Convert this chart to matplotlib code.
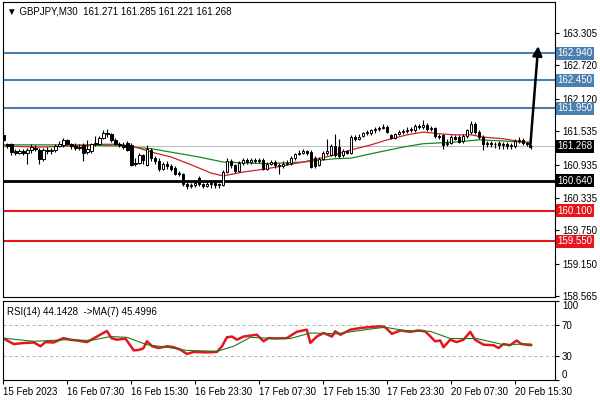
import numpy as np
import matplotlib
matplotlib.use("Agg")
from matplotlib import pyplot as plt

plt.rcParams['font.family'] = ['Liberation Sans', 'DejaVu Sans']

# GBPJPY M30 candles (bar 0 = 15 Feb 23:30)
opens = [161.46, 161.30, 161.30, 161.18, 161.15, 161.17, 161.15, 161.19, 161.24, 161.20,
         161.03, 161.20, 161.17, 161.19, 161.27, 161.28, 161.38, 161.30, 161.27, 161.24,
         161.28, 161.16, 161.18, 161.30, 161.31, 161.42, 161.50, 161.48, 161.38, 161.31,
         161.29, 161.33, 161.28, 160.95, 160.97, 161.10, 160.93, 161.20, 161.05, 161.00,
         160.86, 160.95, 160.90, 160.87, 160.78, 160.76, 160.58, 160.55, 160.57, 160.69,
         160.58, 160.55, 160.58, 160.60, 160.56, 160.57, 160.80, 161.00, 160.92, 160.82,
         160.96, 161.02, 160.98, 161.01, 161.00, 161.02, 160.86, 160.95, 160.98, 160.93,
         160.90, 160.95, 160.96, 161.05, 161.12, 161.15, 161.17, 161.16, 161.05, 160.92,
         161.04, 161.14, 161.10, 161.27, 161.25, 161.10, 161.17, 161.15, 161.43, 161.40,
         161.45, 161.50, 161.50, 161.55, 161.57, 161.60, 161.61, 161.46, 161.42, 161.48,
         161.52, 161.54, 161.56, 161.55, 161.63, 161.61, 161.65, 161.57, 161.59, 161.45,
         161.46, 161.30, 161.33, 161.44, 161.44, 161.36, 161.45, 161.52, 161.67, 161.52,
         161.43, 161.30, 161.33, 161.30, 161.32, 161.28, 161.31, 161.27, 161.27, 161.36,
         161.38, 161.32, 161.271]
highs = [161.50, 161.33, 161.32, 161.22, 161.21, 161.22, 161.23, 161.30, 161.28, 161.23,
         161.24, 161.25, 161.23, 161.30, 161.36, 161.42, 161.40, 161.33, 161.32, 161.30,
         161.32, 161.38, 161.33, 161.45, 161.45, 161.55, 161.57, 161.51, 161.42, 161.35,
         161.34, 161.36, 161.32, 161.05, 161.15, 161.13, 161.29, 161.23, 161.08, 161.05,
         160.98, 160.99, 160.95, 160.90, 160.82, 160.78, 160.62, 160.61, 160.64, 160.72,
         160.61, 160.62, 160.66, 160.63, 160.61, 160.84, 161.05, 161.03, 160.95, 161.00,
         161.06, 161.06, 161.05, 161.05, 161.06, 161.05, 160.98, 161.02, 161.01, 160.96,
         160.99, 161.01, 161.08, 161.15, 161.20, 161.22, 161.20, 161.19, 161.08, 161.07,
         161.17, 161.39, 161.30, 161.48, 161.40, 161.22, 161.20, 161.46, 161.47, 161.48,
         161.53, 161.56, 161.58, 161.61, 161.63, 161.66, 161.64, 161.49, 161.51, 161.55,
         161.58, 161.62, 161.62, 161.66, 161.67, 161.74, 161.69, 161.63, 161.62, 161.48,
         161.49, 161.40, 161.47, 161.47, 161.47, 161.49, 161.58, 161.72, 161.70, 161.55,
         161.46, 161.36, 161.36, 161.35, 161.36, 161.35, 161.35, 161.33, 161.39, 161.44,
         161.42, 161.35, 161.285]
lows = [161.35, 161.24, 161.10, 161.10, 161.12, 161.10, 160.95, 161.15, 161.17, 160.95,
        161.00, 161.12, 161.13, 161.16, 161.25, 161.26, 161.28, 161.22, 161.20, 161.20,
        161.00, 161.12, 161.15, 161.27, 161.28, 161.40, 161.44, 161.35, 161.28, 161.25,
        161.22, 161.18, 160.90, 160.90, 160.94, 160.95, 160.90, 161.00, 160.95, 160.82,
        160.83, 160.86, 160.82, 160.74, 160.72, 160.55, 160.50, 160.52, 160.53, 160.55,
        160.51, 160.53, 160.52, 160.52, 160.51, 160.54, 160.78, 160.88, 160.79, 160.80,
        160.93, 160.95, 160.95, 160.96, 160.96, 160.83, 160.83, 160.92, 160.88, 160.76,
        160.87, 160.92, 160.93, 161.02, 161.10, 161.12, 161.11, 160.87, 160.87, 160.90,
        161.01, 161.11, 161.08, 161.07, 161.05, 161.07, 161.12, 161.12, 161.36, 161.37,
        161.43, 161.47, 161.47, 161.51, 161.54, 161.57, 161.50, 161.39, 161.40, 161.46,
        161.49, 161.51, 161.53, 161.52, 161.58, 161.58, 161.54, 161.54, 161.42, 161.40,
        161.22, 161.27, 161.30, 161.37, 161.32, 161.33, 161.42, 161.49, 161.48, 161.40,
        161.19, 161.25, 161.26, 161.23, 161.22, 161.22, 161.22, 161.21, 161.24, 161.33,
        161.29, 161.27, 161.221]
closes = [161.37, 161.27, 161.16, 161.14, 161.17, 161.15, 161.19, 161.25, 161.21, 161.03,
          161.20, 161.17, 161.19, 161.27, 161.30, 161.38, 161.30, 161.27, 161.24, 161.26,
          161.14, 161.21, 161.30, 161.33, 161.42, 161.50, 161.48, 161.38, 161.31, 161.29,
          161.26, 161.20, 160.93, 160.97, 161.10, 161.02, 161.21, 161.05, 161.00, 160.85,
          160.95, 160.90, 160.86, 160.77, 160.76, 160.58, 160.55, 160.57, 160.60, 160.58,
          160.55, 160.58, 160.60, 160.56, 160.58, 160.80, 161.00, 160.92, 160.82, 160.97,
          161.02, 160.98, 161.01, 161.00, 161.02, 160.86, 160.95, 160.98, 160.93, 160.90,
          160.95, 160.97, 161.05, 161.12, 161.15, 161.17, 161.15, 160.89, 160.90, 161.04,
          161.14, 161.17, 161.27, 161.10, 161.08, 161.17, 161.15, 161.43, 161.40, 161.44,
          161.50, 161.52, 161.55, 161.57, 161.60, 161.61, 161.53, 161.42, 161.48, 161.52,
          161.54, 161.56, 161.58, 161.63, 161.61, 161.65, 161.57, 161.59, 161.45, 161.43,
          161.28, 161.33, 161.44, 161.40, 161.35, 161.45, 161.55, 161.67, 161.52, 161.43,
          161.30, 161.33, 161.30, 161.31, 161.28, 161.31, 161.27, 161.29, 161.36, 161.38,
          161.32, 161.30, 161.268]

# moving averages on price (read at a few bars)
ma_fast_bars = [0, 9, 17, 24, 29, 33, 37, 42, 47, 52, 55, 60, 66, 75, 83, 87, 92, 96, 101,
                105, 109, 113, 117, 120, 125, 130, 132]
ma_fast = [161.27, 161.25, 161.27, 161.30, 161.30, 161.25, 161.16, 161.07, 160.93, 160.78,
           160.73, 160.80, 160.86, 160.98, 161.11, 161.20, 161.29, 161.38, 161.47, 161.52,
           161.49, 161.47, 161.47, 161.43, 161.40, 161.34, 161.32]
ma_slow_bars = [0, 17, 29, 37, 49, 55, 66, 75, 83, 87, 92, 100, 105, 113, 119, 125, 130, 132]
ma_slow = [161.29, 161.29, 161.27, 161.22, 161.07, 160.98, 160.95, 160.98, 161.04, 161.05,
           161.13, 161.25, 161.31, 161.34, 161.38, 161.36, 161.34, 161.34]

# RSI(14) and its MA(7)
rsi_bars = [0, 2.6, 5, 7.6, 9.3, 10.5, 12.6, 15, 16.8, 18.4, 20.9, 23.4, 25.9, 27, 28.4,
            30.5, 31.3, 32.6, 33.8, 35, 35.9, 37.2, 38.8, 41, 42.6, 44.3, 45.9, 47.6, 50.9,
            53.4, 54.7, 55.9, 57.2, 58.4, 60.1, 63.4, 65.1, 66.3, 68, 70.9, 73.4, 75.9, 76.8,
            78.4, 80.1, 82.2, 83, 84.3, 86.8, 89.3, 91.8, 94.3, 95.5, 97.2, 99.3, 101.8, 103.8,
            105.5, 106.8, 108, 109.3, 110.1, 111.8, 113.4, 115.1, 116.8, 118, 120.1, 122.6,
            123.9, 125.1, 126.8, 128.4, 129.6, 130.9, 132]
rsi = [52.5, 45.5, 46.8, 47.5, 42.7, 48.0, 47.5, 53.0, 51.0, 50.0, 48.0, 55.0, 62.0, 53.0,
       51.0, 52.5, 47.0, 37.5, 38.0, 40.0, 49.0, 42.7, 40.5, 42.7, 41.5, 38.4, 33.0, 35.5,
       35.0, 35.5, 42.7, 54.0, 55.0, 51.0, 55.0, 57.3, 49.0, 53.0, 52.5, 53.0, 61.0, 63.7,
       47.0, 55.0, 59.5, 55.0, 61.6, 57.3, 63.7, 65.8, 67.0, 68.0, 66.8, 58.5, 62.7, 61.0,
       62.7, 61.6, 55.3, 49.0, 50.0, 41.5, 51.0, 48.0, 51.0, 61.0, 51.0, 44.7, 44.0, 40.5,
       45.5, 44.0, 50.0, 45.5, 44.7, 44.14]
rsi_ma_bars = [0, 7.6, 15.9, 21.8, 26.8, 30.9, 35.9, 40.9, 45.9, 53.4, 57.6, 61.8, 65.9,
               71.8, 76.8, 83.4, 91.8, 95.5, 100.1, 106.8, 111.8, 118.4, 125.1, 130.9, 132]
rsi_ma = [53.0, 49.0, 51.0, 50.0, 55.0, 54.0, 44.7, 41.5, 37.5, 36.3, 42.7, 54.0, 53.0,
          52.5, 59.5, 58.5, 64.5, 66.8, 62.7, 61.6, 52.5, 52.5, 44.7, 45.5, 45.5]

# horizontal levels
blue_levels = [162.940, 162.450, 161.950]
support_level = 160.640
red_levels = [160.100, 159.550]
last_price = 161.268

price_ticks = [163.305, 162.720, 162.120, 161.535, 160.935, 160.335, 159.750, 159.150, 158.565]
date_ticks = [0, 16, 32, 48, 64, 80, 96, 112, 128]
date_labels = ['15 Feb 2023', '16 Feb 07:30', '16 Feb 15:30', '16 Feb 23:30', '17 Feb 07:30',
               '17 Feb 15:30', '17 Feb 23:30', '20 Feb 07:30', '20 Feb 15:30']

# projected move arrow (from last bar up to the first blue level)
arrow_start = (131.8, 161.25)
arrow_end = (133.8, 163.07)

fig = plt.figure(figsize=(6, 4), dpi=100)
ax = fig.add_axes([0.005, 0.2575, 0.92, 0.7375])
ax_rsi = fig.add_axes([0.005, 0.05, 0.92, 0.1975])

x = np.arange(len(closes))
o = np.array(opens)
c = np.array(closes)
up = c >= o

ax.vlines(x, lows, highs, color='black', lw=0.8, zorder=3)
body_lo = np.minimum(o, c)
body_h = np.maximum(np.abs(c - o), 0.008)
ax.bar(x[up], body_h[up], bottom=body_lo[up], width=0.6, color='white',
       edgecolor='black', lw=0.7, zorder=4)
ax.bar(x[~up], body_h[~up], bottom=body_lo[~up], width=0.6, color='black',
       edgecolor='black', lw=0.7, zorder=4)

ax.plot(ma_slow_bars, ma_slow, color='#1a8a1a', lw=0.9, zorder=2)
ax.plot(ma_fast_bars, ma_fast, color='#d0202a', lw=0.9, zorder=2)

for lvl in blue_levels:
    ax.axhline(lvl, color='#4a7fb0', lw=1.5, zorder=1)
    ax.text(1.004, lvl, '%.3f' % lvl, transform=ax.get_yaxis_transform(), fontsize=7,
            color='white', va='center', ha='left', clip_on=False,
            bbox=dict(boxstyle='square,pad=0.15', fc='#4a7fb0', ec='none'))
ax.axhline(support_level, color='black', lw=2, zorder=1)
ax.text(1.004, support_level, '%.3f' % support_level, transform=ax.get_yaxis_transform(),
        fontsize=7, color='white', va='center', ha='left', clip_on=False,
        bbox=dict(boxstyle='square,pad=0.15', fc='black', ec='none'))
for lvl in red_levels:
    ax.axhline(lvl, color='#e8141c', lw=1.5, zorder=1)
    ax.text(1.004, lvl, '%.3f' % lvl, transform=ax.get_yaxis_transform(), fontsize=7,
            color='white', va='center', ha='left', clip_on=False,
            bbox=dict(boxstyle='square,pad=0.15', fc='#e8141c', ec='none'))
ax.axhline(last_price, color='#c0c0c0', lw=0.8, zorder=1)
ax.text(1.004, last_price, '%.3f' % last_price, transform=ax.get_yaxis_transform(),
        fontsize=7, color='white', va='center', ha='left', clip_on=False,
        bbox=dict(boxstyle='square,pad=0.15', fc='black', ec='none'))

ax.annotate('', xy=arrow_end, xytext=arrow_start,
            arrowprops=dict(arrowstyle='-|>', color='black', lw=1.8, mutation_scale=14,
                            shrinkA=0, shrinkB=0), zorder=6)

ax.set_xlim(-0.1, 138)
ax.set_ylim(158.548, 163.864)
ax.yaxis.tick_right()
ax.set_yticks(price_ticks)
ax.set_yticklabels(['%.3f' % t for t in price_ticks])
ax.tick_params(axis='y', labelsize=7, length=3, pad=2)
ax.set_xticks([])
ax.text(0.008, 0.985, u'\u25bc GBPJPY,M30  161.271 161.285 161.221 161.268',
        transform=ax.transAxes, fontsize=7, va='top', ha='left')

# RSI panel
ax_rsi.axhline(70, color='#b0b0b0', lw=0.7, ls=(0, (3, 3)))
ax_rsi.axhline(30, color='#b0b0b0', lw=0.7, ls=(0, (3, 3)))
ax_rsi.plot(rsi_bars, rsi, color='#e8141c', lw=1.8)
ax_rsi.plot(rsi_ma_bars, rsi_ma, color='#1a7a1a', lw=0.8)
ax_rsi.set_xlim(-0.1, 138)
ax_rsi.set_ylim(0, 100)
ax_rsi.yaxis.tick_right()
ax_rsi.set_yticks([100, 70, 30, 0])
ax_rsi.set_yticklabels(['100', '70', '30', '0'])
ax_rsi.tick_params(axis='y', labelsize=7, length=3, pad=2)
ylabs = ax_rsi.get_yticklabels()
ylabs[0].set_va('top')
ylabs[3].set_va('bottom')
ax_rsi.set_xticks(date_ticks)
ax_rsi.set_xticklabels(date_labels, ha='left')
ax_rsi.tick_params(axis='x', labelsize=7, length=3, pad=2)
ax_rsi.text(0.008, 0.93, 'RSI(14) 44.1428  ->MA(7) 45.4996', transform=ax_rsi.transAxes,
            fontsize=7, va='top', ha='left')

fig.savefig('out.png', dpi=100)
